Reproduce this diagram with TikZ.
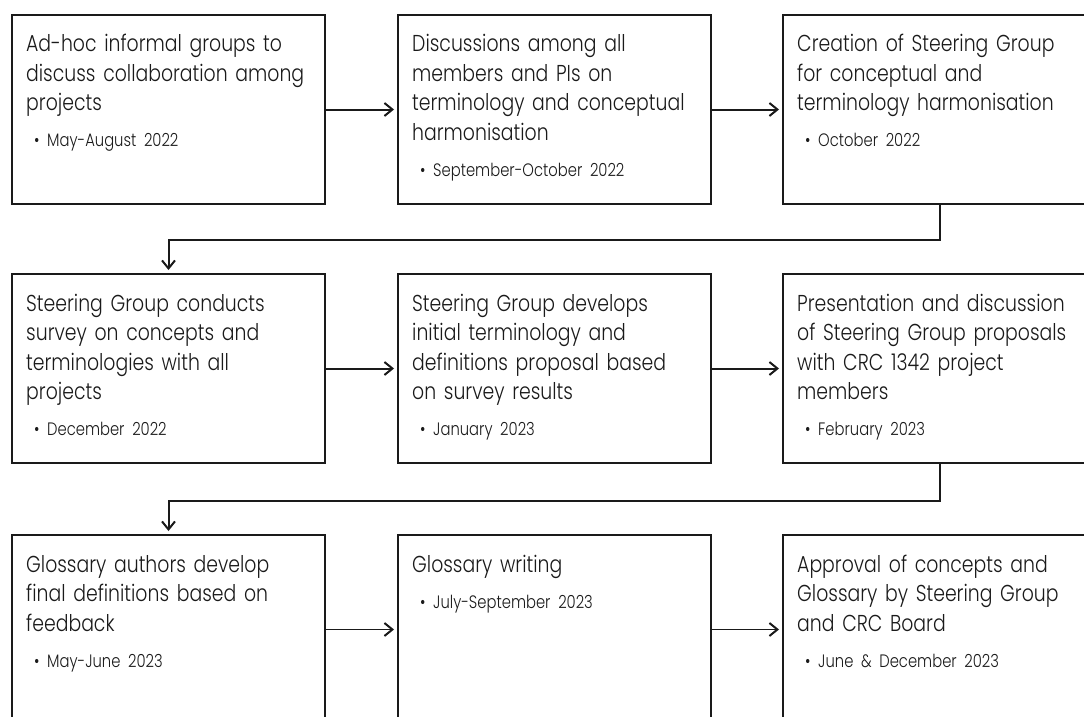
\documentclass[tikz,border=0pt]{standalone}
\usepackage{fontspec}
\IfFontExistsTF{Poppins Light}{\setmainfont{Poppins Light}[FakeStretch=0.82]}{\setmainfont{Poppins}[FakeStretch=0.82]}
\usetikzlibrary{arrows.meta}
\definecolor{ink}{HTML}{1A1A1A}
\tikzset{
  box/.style={draw=ink, line width=2pt, minimum width=313pt, minimum height=189pt, inner sep=0pt, anchor=north west},
  txt/.style={anchor=base west, inner sep=0pt, text width=300pt, align=left, font=\fontsize{23}{29.5}\selectfont, text=ink},
  flow/.style={draw=ink, line width=2pt, shorten >=3pt, -{Straight Barb[length=8pt,width=13pt,line width=2pt]}},
  thinflow/.style={flow, line width=1.4pt},
}
\newcommand{\dateline}[1]{\par\fontsize{18}{36}\selectfont\hspace*{8pt}\makebox[13pt][l]{\textbullet}#1\par}
\begin{document}
\begin{tikzpicture}[x=1pt,y=-1pt]
\useasboundingbox (0,0) rectangle (1084,717);
\clip (0,0) rectangle (1084,717);
% boxes
\node[box] (b1) at (11,14) {};
\node[box] (b2) at (397,14) {};
\node[box] (b3) at (782,14) {};
\node[box] (b4) at (11,273) {};
\node[box] (b5) at (397,273) {};
\node[box] (b6) at (782,273) {};
\node[box] (b7) at (11,534) {};
\node[box] (b8) at (397,534) {};
\node[box] (b9) at (782,534) {};
% texts
\node[txt] (t1) at ([shift={(15,38)}]b1.north west) {Ad-hoc informal groups to\\discuss collaboration among\\projects\dateline{May-August 2022}};
\node[txt] (t2) at ([shift={(15,38)}]b2.north west) {Discussions among all\\members and PIs on\\terminology and conceptual\\harmonisation\dateline{September-October 2022}};
\node[txt] (t3) at ([shift={(15,38)}]b3.north west) {Creation of Steering Group\\for conceptual and\\terminology harmonisation\dateline{October 2022}};
\node[txt] (t4) at ([shift={(15,38)}]b4.north west) {Steering Group conducts\\survey on concepts and\\terminologies with all\\projects\dateline{December 2022}};
\node[txt] (t5) at ([shift={(15,38)}]b5.north west) {Steering Group develops\\initial terminology and\\definitions proposal based\\on survey results\dateline{January 2023}};
\node[txt] (t6) at ([shift={(15,38)}]b6.north west) {Presentation and discussion\\of Steering Group proposals\\with CRC 1342 project\\members\dateline{February 2023}};
\node[txt] (t7) at ([shift={(15,38)}]b7.north west) {Glossary authors develop\\final definitions based on\\feedback\dateline{May-June 2023}};
\node[txt] (t8) at ([shift={(15,38)}]b8.north west) {Glossary writing\dateline{July-September 2023}};
\node[txt] (t9) at ([shift={(15,38)}]b9.north west) {Approval of concepts and\\Glossary by Steering Group\\and CRC Board\dateline{June \& December 2023}};
% connectors
\draw[flow] (b1.east) -- (b2.west);
\draw[flow] (b2.east) -- (b3.west);
\draw[flow] (b3.south) -- ([yshift=-35pt]b3.south) -| (b4.north);
\draw[flow] (b4.east) -- (b5.west);
\draw[flow] (b5.east) -- (b6.west);
\draw[flow] (b6.south) -- ([yshift=-37pt]b6.south) -| (b7.north);
\draw[thinflow] (b7.east) -- (b8.west);
\draw[thinflow] (b8.east) -- (b9.west);
\end{tikzpicture}
\end{document}
